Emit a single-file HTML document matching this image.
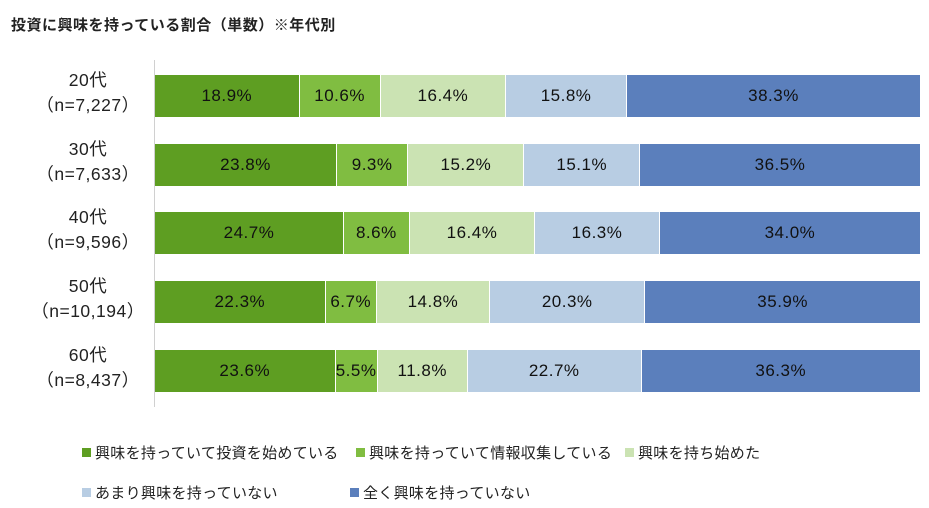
<!DOCTYPE html><html><head><meta charset="utf-8"><style>
body{margin:0;width:929px;height:508px;background:#fff;font-family:"Liberation Sans","Noto Sans CJK JP",sans-serif;position:relative;overflow:hidden}
.t{position:absolute;left:11px;top:14px;font-size:15px;font-weight:bold;color:#222;letter-spacing:0.5px}
.ax{position:absolute;left:154px;top:60px;width:1px;height:347px;background:#d0d0d0}
.bar{position:absolute;left:155px;width:765px;height:42px;display:flex}
.bar div{height:100%;display:flex;align-items:center;justify-content:center;font-size:17px;color:#111;border-right:1px solid #fff;box-sizing:border-box;white-space:nowrap;letter-spacing:0.5px}
.bar div:last-child{border-right:none}
.a{background:#5e9e22}.b{background:#80bd41}.c{background:#cbe3b3}.d{background:#b8cde3}.e{background:#5b7fbc}
.lb{position:absolute;left:20px;width:140px;text-align:center;font-size:17.5px;color:#222;line-height:25px;letter-spacing:0.5px}
.lg{position:absolute;font-size:15px;color:#222;display:flex;align-items:center;white-space:nowrap;letter-spacing:0.3px}
.lg i{display:inline-block;width:9px;height:9px;margin-right:4px}
</style></head><body>
<div class="t">投資に興味を持っている割合（単数）※年代別</div>
<div class="ax"></div>
<div class="lb" style="top:68px;left:18px">20代<br>（n=7,227）</div>
<div class="lb" style="top:137px;left:18px">30代<br>（n=7,633）</div>
<div class="lb" style="top:205px;left:18px">40代<br>（n=9,596）</div>
<div class="lb" style="top:274px;left:18px">50代<br>（n=10,194）</div>
<div class="lb" style="top:343px;left:18px">60代<br>（n=8,437）</div>
<div class="bar" style="top:75px"><div class="a" style="width:18.9%">18.9%</div><div class="b" style="width:10.6%">10.6%</div><div class="c" style="width:16.4%">16.4%</div><div class="d" style="width:15.8%">15.8%</div><div class="e" style="width:38.3%">38.3%</div></div>
<div class="bar" style="top:144px"><div class="a" style="width:23.8%">23.8%</div><div class="b" style="width:9.3%">9.3%</div><div class="c" style="width:15.2%">15.2%</div><div class="d" style="width:15.1%">15.1%</div><div class="e" style="width:36.6%">36.5%</div></div>
<div class="bar" style="top:212px"><div class="a" style="width:24.7%">24.7%</div><div class="b" style="width:8.6%">8.6%</div><div class="c" style="width:16.4%">16.4%</div><div class="d" style="width:16.3%">16.3%</div><div class="e" style="width:34.0%">34.0%</div></div>
<div class="bar" style="top:281px"><div class="a" style="width:22.3%">22.3%</div><div class="b" style="width:6.7%">6.7%</div><div class="c" style="width:14.8%">14.8%</div><div class="d" style="width:20.3%">20.3%</div><div class="e" style="width:35.9%">35.9%</div></div>
<div class="bar" style="top:350px"><div class="a" style="width:23.6%">23.6%</div><div class="b" style="width:5.5%">5.5%</div><div class="c" style="width:11.8%">11.8%</div><div class="d" style="width:22.7%">22.7%</div><div class="e" style="width:36.4%">36.3%</div></div>
<div class="lg" style="left:82px;top:442px"><i class="a"></i>興味を持っていて投資を始めている</div>
<div class="lg" style="left:356px;top:442px"><i class="b"></i>興味を持っていて情報収集している</div>
<div class="lg" style="left:625px;top:442px"><i class="c"></i>興味を持ち始めた</div>
<div class="lg" style="left:82px;top:482px"><i class="d"></i>あまり興味を持っていない</div>
<div class="lg" style="left:350px;top:482px"><i class="e"></i>全く興味を持っていない</div>
</body></html>
